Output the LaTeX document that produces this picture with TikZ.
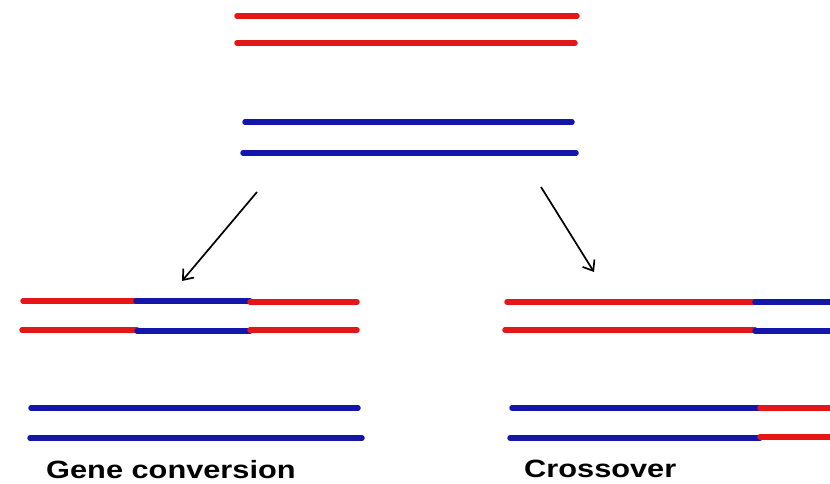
\documentclass[tikz,border=0pt]{standalone}
\usepackage{fontspec}
\setmainfont{Liberation Sans}
\newfontfamily\captionfont[FakeStretch=1.23]{Liberation Sans}
\usepackage{xcolor}
\usetikzlibrary{arrows.meta}

\definecolor{strandred}{RGB}{228,22,24}
\definecolor{strandblue}{RGB}{20,22,170}

\begin{document}
\begin{tikzpicture}[
        x=1pt, y=-1pt,
        strand/.style={line width=5.5pt, line cap=round},
        redstrand/.style={strand, draw=strandred},
        bluestrand/.style={strand, draw=strandblue},
        arrow/.style={-{Straight Barb[length=9pt, width=14pt]}, line width=1.7pt, black},
        caption/.style={anchor=base west, inner sep=0pt, font=\captionfont\bfseries\fontsize{25}{30}\selectfont}
    ]
    \useasboundingbox (0,0) rectangle (830,484);

    % --- Parent chromosomes ---
    \draw[redstrand] (237,16) -- (577,16);
    \draw[redstrand] (237,43) -- (575,43);
    \draw[bluestrand] (245,122) -- (572,122);
    \draw[bluestrand] (243,153) -- (576,153);

    % --- Arrows ---
    \coordinate (left_from) at (257,192);
    \coordinate (left_to) at (182,281);
    \coordinate (right_from) at (541,187);
    \coordinate (right_to) at (594,272);
    \draw[arrow] (left_from) -- (left_to);
    \draw[arrow] (right_from) -- (right_to);

    % --- Gene conversion ---
    \draw[redstrand] (23,301) -- (136,301);
    \draw[bluestrand] (136,301) -- (250,301);
    \draw[redstrand] (250,302) -- (357,302);
    \draw[redstrand] (22,330) -- (137,330);
    \draw[bluestrand] (137,331) -- (250,331);
    \draw[redstrand] (250,330) -- (357,330);
    \draw[bluestrand] (31,408) -- (358,408);
    \draw[bluestrand] (30,438) -- (362,438);
    \node[caption] (gc) at (46,478) {Gene conversion};

    % --- Crossover ---
    \draw[redstrand] (507,302) -- (755,302);
    \draw[bluestrand] (755,302) -- (834,302);
    \draw[redstrand] (505,330) -- (755,330);
    \draw[bluestrand] (755,331) -- (834,331);
    \draw[bluestrand] (512,408) -- (760,408);
    \draw[redstrand] (760,408) -- (834,408);
    \draw[bluestrand] (510,438) -- (760,438);
    \draw[redstrand] (760,437) -- (834,437);
    \node[caption] (co) at (524,477) {Crossover};

\end{tikzpicture}
\end{document}
